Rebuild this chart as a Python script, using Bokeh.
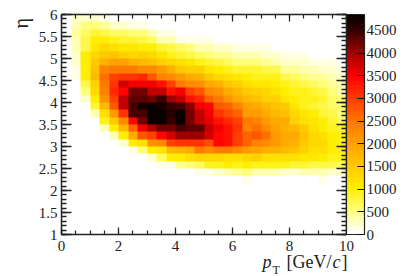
import math
import numpy as np
from bokeh.embed import file_html
from bokeh.layouts import column, row
from bokeh.models import ColorBar, FixedTicker, Label, LinearAxis, LinearColorMapper, SingleIntervalTicker
from bokeh.plotting import figure
from bokeh.resources import INLINE

# Counts per bin, p_T 0..10 in 30 columns; rows run from eta 6 (top) down to eta 1.
row_00 = [0,250,250,200,120,50,20,10,0,0, 0,0,0,0,0,0,0,0,0,0, 0,0,0,0,0,0,0,0,0,0]
row_01 = [0,350,500,500,400,200,200,150,150,80, 20,10,0,0,0,0,0,0,0,0, 0,0,0,0,0,0,0,0,0,0]
row_02 = [0,400,600,800,750,600,600,500,500,350, 150,130,20,10,5,0,0,0,0,0, 0,0,0,0,0,0,0,0,0,0]
row_03 = [0,350,700,1050,1000,900,800,800,700,600, 350,300,150,150,120,100,70,50,40,30, 20,10,5,0,0,0,0,0,0,0]
row_04 = [0,300,700,1150,1350,1200,1150,1100,1000,1050, 800,700,600,500,350,300,250,200,150,150, 120,100,80,50,40,30,20,10,0,0]
row_05 = [0,250,1000,1350,1550,1600,1400,1300,1400,1300, 1100,950,850,750,600,550,450,400,350,300, 300,250,220,150,120,100,80,60,50,30]
row_06 = [0,200,1050,1500,1750,2000,2000,1800,1700,1600, 1450,1350,1200,1150,900,800,750,600,550,550, 500,400,350,250,200,200,150,120,100,50]
row_07 = [0,150,1050,1600,2400,2500,2500,2500,2300,2300, 2050,1800,1500,1450,1400,1100,1050,950,800,800, 800,750,700,450,400,350,300,200,200,150]
row_08 = [0,100,1000,1650,2600,3000,3100,3100,3200,2800, 2400,2300,2100,1900,1800,1500,1300,1250,1100,1000, 950,900,900,700,600,500,450,400,300,200]
row_09 = [0,50,700,1400,2500,3100,3700,3500,3500,3500, 3300,3000,2500,2300,2200,1900,1800,1500,1400,1200, 1150,1100,1050,900,800,700,650,550,400,300]
row_10 = [0,0,500,1300,2400,3200,3400,4200,4200,3800, 3800,3300,3500,3000,2800,2300,2200,1900,1700,1500, 1400,1300,1250,1050,900,900,800,700,500,350]
row_11 = [0,0,200,1000,2200,3000,3800,4300,4300,4250, 4500,4050,3800,3300,3200,2700,2500,2200,1900,1700, 1600,1450,1400,1100,1050,900,900,800,600,500]
row_12 = [0,0,50,800,1700,2800,3800,4450,4700,4850, 4700,4550,4400,4100,3500,3400,2800,2700,2400,2000, 1900,1700,1600,1500,1100,900,850,700,600,500]
row_13 = [0,0,0,300,1200,2100,3100,4450,4400,4850, 4850,4600,4800,4200,3800,3500,3100,2900,2700,2100, 2100,1900,1700,1600,1300,1150,1000,800,700,500]
row_14 = [0,0,0,50,900,1500,2300,3400,4200,4850, 4850,4500,4850,4200,3800,3600,3300,3200,3000,2500, 2400,2100,1900,1850,1450,1200,1150,1000,800,600]
row_15 = [0,0,0,0,300,1050,1700,2700,3500,3900, 4200,4200,4400,4300,4300,3800,3500,3300,3100,2400, 2600,2300,2000,1800,1700,1500,1200,1050,900,800]
row_16 = [0,0,0,0,0,350,1000,1900,2800,3000, 3400,3700,4000,4000,4050,3700,3400,3300,3000,2700, 2750,2600,2100,1900,1900,1600,1350,1250,1000,900]
row_17 = [0,0,0,0,0,0,250,1000,1250,2200, 2300,3000,3100,3100,3100,2900,3400,3300,3000,2700, 2400,2300,2100,1900,1800,1500,1300,1300,1000,950]
row_18 = [0,0,0,0,0,0,0,150,500,1050, 1100,1700,1800,1900,2500,2300,2500,2500,2300,2100, 2000,1800,1800,1700,1600,1400,1200,1200,1000,1000]
row_19 = [0,0,0,0,0,0,0,0,50,200, 600,1050,1050,1250,1350,1300,1300,1200,1250,1300, 1400,1200,1200,1200,1250,1100,1100,1000,900,950]
row_20 = [0,0,0,0,0,0,0,0,0,0, 100,100,400,500,600,900,950,1000,950,1000, 950,950,900,900,800,800,750,700,700,650]
row_21 = [0,0,0,0,0,0,0,0,0,0, 0,10,20,50,100,150,200,300,400,500, 350,300,300,250,250,300,300,300,250,250]
row_22 = [0,0,0,0,0,0,0,0,0,0, 0,0,0,0,0,20,30,50,50,100, 60,50,50,50,80,60,60,100,60,60]

rows = [row_00,row_01,row_02,row_03,row_04,row_05,row_06,row_07,row_08,row_09,row_10,row_11,
        row_12,row_13,row_14,row_15,row_16,row_17,row_18,row_19,row_20,row_21,row_22]
empty_rows = 7  # eta below about 2.17 holds nothing

colorbar_ticks = [0,500,1000,1500,2000,2500,3000,3500,4000,4500]
z_max = 4850
serif = "Liberation Serif"

grid = np.array(rows + [[0]*30]*empty_rows, dtype=float)[::-1]
grid[grid == 0] = np.nan

anchors_z = [0,250,500,1000,1500,2000,2500,3000,3500,4000,4500,4850]
anchors_r = [255,255,255,255,255,255,255,255,255,170,60,10]
anchors_g = [255,255,255,238,200,160,120,60,0,0,0,0]
anchors_b = [255,190,120,0,0,0,0,0,0,0,0,0]
levels = np.arange(50)/49*z_max
palette = ["#%02x%02x%02x" % (round(np.interp(l,anchors_z,anchors_r)),
                              round(np.interp(l,anchors_z,anchors_g)),
                              round(np.interp(l,anchors_z,anchors_b))) for l in levels]
mapper = LinearColorMapper(palette=palette, low=0, high=z_max, nan_color="#ffffff")

STRIP = 34      # width of the strip on the left that holds the eta title
MAIN_H = 254    # height of the main panel; the p_T title has the rest

p = figure(frame_width=285, frame_height=220, width=407-STRIP, height=MAIN_H,
           x_range=(0,10), y_range=(1,6), x_axis_location=None, y_axis_location=None,
           toolbar_location=None, output_backend="svg", frame_align=False,
           min_border_left=61-STRIP, min_border_top=14, min_border_right=0, min_border_bottom=0)
p.grid.visible = False
p.outline_line_color = None
p.background_fill_color = "white"
p.image(image=[grid], x=0, y=1, dw=10, dh=5, color_mapper=mapper)

def style(ax, maj, mnr, lw, labels):
    ax.major_tick_in = maj
    ax.major_tick_out = 0
    ax.minor_tick_in = mnr
    ax.minor_tick_out = 0
    ax.axis_line_color = "#222222"
    ax.axis_line_width = 1.5
    ax.major_tick_line_color = "#222222"
    ax.minor_tick_line_color = "#222222"
    ax.major_tick_line_width = lw
    ax.minor_tick_line_width = lw
    if labels:
        ax.major_label_text_font = serif
        ax.major_label_text_font_size = "15px"
        ax.major_label_text_color = "#222222"
    else:
        ax.major_label_text_font_size = "0px"
        ax.major_label_text_color = None
        ax.major_label_standoff = 0

xt = SingleIntervalTicker(interval=2, num_minor_ticks=4)
yt = SingleIntervalTicker(interval=0.5, num_minor_ticks=5)

bottom = LinearAxis(ticker=xt); style(bottom,7,4,1.2,True); bottom.major_label_standoff = 6
left = LinearAxis(ticker=yt); style(left,10,5,1.6,True); left.major_label_standoff = 4
top = LinearAxis(ticker=xt); style(top,7,4,1.2,False)
right = LinearAxis(ticker=yt); style(right,10,5,1.6,False)
p.add_layout(bottom,"below"); p.add_layout(left,"left")
p.add_layout(top,"above"); p.add_layout(right,"right")

bar = ColorBar(color_mapper=mapper, width=18, padding=0, margin=2,
               ticker=FixedTicker(ticks=colorbar_ticks),
               major_tick_in=7, major_tick_out=0, minor_tick_in=0, minor_tick_out=0,
               major_tick_line_color="#111111", major_tick_line_width=1.2,
               bar_line_color="#222222", bar_line_width=1.2,
               major_label_text_font=serif, major_label_text_font_size="15px",
               major_label_text_color="#222222", label_standoff=2,
               height=220)
p.add_layout(bar,"right")

def blank(w, h, xr, yr):
    f = figure(frame_width=w, frame_height=h, width=w, height=h, x_range=xr, y_range=yr,
               x_axis_location=None, y_axis_location=None,
               toolbar_location=None, output_backend="svg", frame_align=False,
               min_border_left=0, min_border_right=0, min_border_top=0, min_border_bottom=0)
    f.grid.visible = False
    f.outline_line_color = None
    return f

def lab(f, text, px, py, size, font_style="normal", angle=0):
    f.add_layout(Label(x=px, y=py, text=text, text_font=serif, text_font_size=size,
                       text_font_style=font_style, text_color="#222222", angle=angle,
                       text_align="left", text_baseline="alphabetic"))

# Both strips use page pixels as their ranges, so titles sit where the reference has them.
strip = blank(STRIP, 276, (0,STRIP), (276,0))
lab(strip, "η", 20, 28, "20px", angle=math.pi/2)

foot = blank(407-STRIP, 276-MAIN_H, (STRIP,407), (276,MAIN_H))
lab(foot, "p", 262, 262, "18px", font_style="italic")
lab(foot, "T", 272, 270, "12px")
lab(foot, "[GeV/", 286, 262, "18px")
lab(foot, "c", 332, 262, "18px", font_style="italic")
lab(foot, "]", 341, 262, "18px")

page = row(strip, column(p, foot, spacing=0), spacing=0)
open("out.html","w").write(file_html(page, INLINE))
